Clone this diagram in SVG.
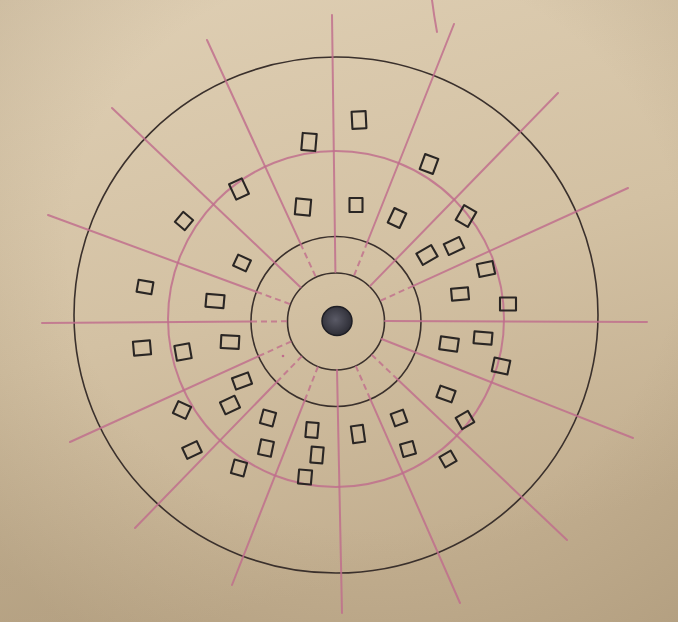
<svg xmlns="http://www.w3.org/2000/svg" width="678" height="622" viewBox="0 0 678 622">
<defs>
<linearGradient id="bg" x1="0" y1="0" x2="0.3" y2="1">
<stop offset="0" stop-color="#dfcfb4"/>
<stop offset="0.55" stop-color="#d3c1a3"/>
<stop offset="1" stop-color="#c2ae8f"/>
</linearGradient>
<radialGradient id="vig" cx="0.55" cy="0.4" r="0.75">
<stop offset="0.6" stop-color="#8a7658" stop-opacity="0"/>
<stop offset="1" stop-color="#8a7658" stop-opacity="0.25"/>
</radialGradient>
<radialGradient id="dot" cx="0.45" cy="0.45" r="0.6">
<stop offset="0" stop-color="#5a5a66"/>
<stop offset="1" stop-color="#2a2a32"/>
</radialGradient>
<style>
.pk{stroke:#c06c8c;stroke-width:2;fill:none;stroke-linecap:round;opacity:0.82}
.pd{stroke:#c06c8c;stroke-width:2;fill:none;stroke-dasharray:6 4;opacity:0.78}
.bk{stroke:#3a302c;stroke-width:1.6;fill:none}
.sq{fill:none;stroke:#2a2624;stroke-width:2.1;stroke-linejoin:round}
</style>
</defs>
<rect width="678" height="622" fill="url(#bg)"/>
<rect width="678" height="622" fill="url(#vig)"/>

<g id="circles">
<ellipse class="bk" cx="336" cy="315" rx="262" ry="258"/>
<circle cx="336" cy="319" r="168" fill="none" stroke="#c06c8c" stroke-width="2" opacity="0.82"/>
<circle class="bk" cx="336" cy="321.5" r="85"/>
<circle class="bk" cx="336" cy="321.5" r="48.5"/>
<ellipse cx="337" cy="321" rx="15" ry="14.5" fill="url(#dot)" stroke="#1e1e24" stroke-width="1.5"/>
</g>

<g id="connectors">
<line class="pk" x1="332" y1="15" x2="335.4" y2="272"/>
<line class="pk" x1="454" y1="24" x2="367.4" y2="242"/>
<line class="pd" x1="367.4" y1="242" x2="354.1" y2="275.5"/>
<line class="pk" x1="558" y1="93" x2="370.2" y2="285.9"/>
<line class="pk" x1="628" y1="188" x2="413.3" y2="285.8"/>
<line class="pd" x1="413.3" y1="285.8" x2="380.6" y2="300.7"/>
<line class="pk" x1="647" y1="322" x2="385" y2="321"/>
<line class="pk" x1="633" y1="438" x2="381.6" y2="339"/>
<line class="pk" x1="567" y1="540" x2="397.7" y2="379.5"/>
<line class="pd" x1="397.7" y1="379.5" x2="371.6" y2="354.7"/>
<line class="pk" x1="460" y1="603" x2="370.2" y2="398.8"/>
<line class="pd" x1="370.2" y1="398.8" x2="355.7" y2="365.9"/>
<line class="pk" x1="342" y1="613" x2="337" y2="370"/>
<line class="pk" x1="232" y1="585" x2="304.8" y2="400.1"/>
<line class="pd" x1="304.8" y1="400.1" x2="318" y2="366.6"/>
<line class="pk" x1="135" y1="528" x2="276.8" y2="382"/>
<line class="pd" x1="276.8" y1="382" x2="301.9" y2="356.1"/>
<line class="pk" x1="70" y1="442" x2="258.6" y2="356.2"/>
<line class="pd" x1="258.6" y1="356.2" x2="291.4" y2="341.3"/>
<line class="pk" x1="42" y1="323" x2="251" y2="321.6"/>
<line class="pd" x1="251" y1="321.6" x2="287" y2="321.3"/>
<line class="pk" x1="48" y1="215" x2="256.3" y2="291.7"/>
<line class="pd" x1="256.3" y1="291.7" x2="290" y2="304.1"/>
<line class="pk" x1="112" y1="108" x2="300.5" y2="287.2"/>
<line class="pk" x1="207" y1="40" x2="300.5" y2="243.7"/>
<line class="pd" x1="300.5" y1="243.7" x2="315.6" y2="276.5"/>
<circle cx="283" cy="356" r="1.3" fill="#c06c8c"/>
<path class="pk" d="M432 0 Q434 16 437 32" opacity="0.7"/>
</g>

<g id="squares">
<rect class="sq" x="-7" y="-8.5" width="14" height="17" transform="translate(359,120) rotate(-3)"/>
<rect class="sq" x="-7" y="-8.5" width="14" height="17" transform="translate(309,142) rotate(5)"/>
<rect class="sq" x="-7" y="-8" width="14" height="16" transform="translate(429,164) rotate(20)"/>
<rect class="sq" x="-7" y="-8.5" width="14" height="17" transform="translate(239,189) rotate(-25)"/>
<rect class="sq" x="-7.5" y="-8" width="15" height="16" transform="translate(303,207) rotate(5)"/>
<rect class="sq" x="-6.5" y="-7" width="13" height="14" transform="translate(356,205)"/>
<rect class="sq" x="-6.5" y="-8" width="13" height="16" transform="translate(397,218) rotate(25)"/>
<rect class="sq" x="-6.5" y="-6.5" width="13" height="13" transform="translate(184,221) rotate(40)"/>
<rect class="sq" x="-7" y="-8.5" width="14" height="17" transform="translate(466,216) rotate(30)"/>
<rect class="sq" x="-8.5" y="-6" width="17" height="12" transform="translate(454,246) rotate(-25)"/>
<rect class="sq" x="-8.5" y="-6.5" width="17" height="13" transform="translate(427,255) rotate(-30)"/>
<rect class="sq" x="-7" y="-6" width="14" height="12" transform="translate(242,263) rotate(25)"/>
<rect class="sq" x="-8" y="-6.5" width="16" height="13" transform="translate(486,269) rotate(-12)"/>
<rect class="sq" x="-7.5" y="-6" width="15" height="12" transform="translate(145,287) rotate(10)"/>
<rect class="sq" x="-9" y="-6.5" width="18" height="13" transform="translate(215,301) rotate(5)"/>
<rect class="sq" x="-8.5" y="-6" width="17" height="12" transform="translate(460,294) rotate(-5)"/>
<rect class="sq" x="-8" y="-6.5" width="16" height="13" transform="translate(508,304)"/>
<rect class="sq" x="-9" y="-6" width="18" height="12" transform="translate(483,338) rotate(5)"/>
<rect class="sq" x="-9" y="-6.5" width="18" height="13" transform="translate(449,344) rotate(8)"/>
<rect class="sq" x="-8" y="-7" width="16" height="14" transform="translate(501,366) rotate(12)"/>
<rect class="sq" x="-8.5" y="-7" width="17" height="14" transform="translate(142,348) rotate(-5)"/>
<rect class="sq" x="-7.5" y="-7.5" width="15" height="15" transform="translate(183,352) rotate(-10)"/>
<rect class="sq" x="-9" y="-6.5" width="18" height="13" transform="translate(230,342) rotate(3)"/>
<rect class="sq" x="-8.5" y="-6" width="17" height="12" transform="translate(242,381) rotate(-20)"/>
<rect class="sq" x="-8" y="-6.5" width="16" height="13" transform="translate(230,405) rotate(-25)"/>
<rect class="sq" x="-7" y="-6.5" width="14" height="13" transform="translate(182,410) rotate(25)"/>
<rect class="sq" x="-6.5" y="-7" width="13" height="14" transform="translate(268,418) rotate(15)"/>
<rect class="sq" x="-8" y="-6" width="16" height="12" transform="translate(192,450) rotate(-25)"/>
<rect class="sq" x="-6.5" y="-7.5" width="13" height="15" transform="translate(266,448) rotate(12)"/>
<rect class="sq" x="-6" y="-7.5" width="12" height="15" transform="translate(312,430) rotate(5)"/>
<rect class="sq" x="-6" y="-8" width="12" height="16" transform="translate(317,455) rotate(5)"/>
<rect class="sq" x="-6.5" y="-7" width="13" height="14" transform="translate(239,468) rotate(15)"/>
<rect class="sq" x="-6.5" y="-7" width="13" height="14" transform="translate(305,477) rotate(5)"/>
<rect class="sq" x="-8" y="-6" width="16" height="12" transform="translate(446,394) rotate(20)"/>
<rect class="sq" x="-6.5" y="-6.5" width="13" height="13" transform="translate(399,418) rotate(-20)"/>
<rect class="sq" x="-7" y="-6.5" width="14" height="13" transform="translate(465,420) rotate(-30)"/>
<rect class="sq" x="-6" y="-8.5" width="12" height="17" transform="translate(358,434) rotate(-8)"/>
<rect class="sq" x="-6.5" y="-6.5" width="13" height="13" transform="translate(408,449) rotate(-15)"/>
<rect class="sq" x="-6.5" y="-6" width="13" height="12" transform="translate(448,459) rotate(-30)"/>
</g>
</svg>
